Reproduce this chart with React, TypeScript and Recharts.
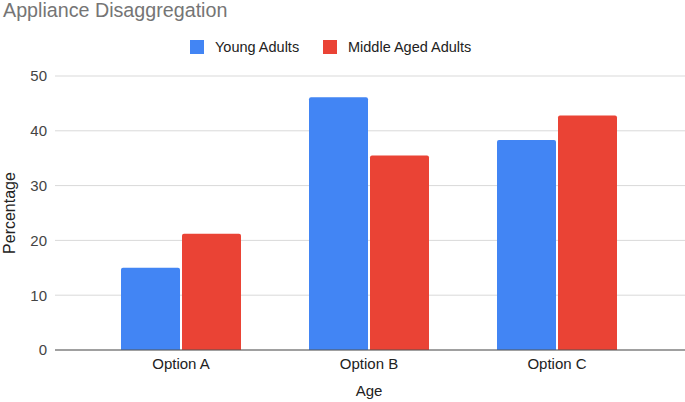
import { BarChart, Bar, XAxis, YAxis, CartesianGrid } from 'recharts'

const categories = ['Option A', 'Option B', 'Option C']
const youngAdults = [15.0, 46.1, 38.3]
const middleAgedAdults = [21.2, 35.5, 42.8]
const yTicks = [0, 10, 20, 30, 40, 50]

const SERIES = [
  { key: 'young', name: 'Young Adults', color: '#4285F4', values: youngAdults },
  { key: 'middle', name: 'Middle Aged Adults', color: '#EA4335', values: middleAgedAdults },
]

const FONT = '"Liberation Sans", Arial, sans-serif'

const data = categories.map((name, i) => {
  const row: any = { name }
  SERIES.forEach(s => { row[s.key] = s.values[i] })
  return row
})

// legend swatch / label x positions
const legendX = [190, 323]

export default function App() {
  return (
    <div style={{ position: 'relative', width: 685, height: 402, background: '#fff', fontFamily: FONT }}>
      <style>{'body{margin:0}'}</style>
      <BarChart
        width={685}
        height={402}
        data={data}
        margin={{ top: 76, right: 0, bottom: 22, left: 20 }}
        barCategoryGap={34}
        barGap={2}
      >
        <CartesianGrid vertical={false} stroke="#d9d9d9" />
        <XAxis
          dataKey="name"
          height={30}
          padding={{ left: 32, right: 34 }}
          tickLine={false}
          axisLine={{ stroke: '#555' }}
          tick={{ fill: '#222', fontSize: 15, fontFamily: FONT }}
        />
        <YAxis
          width={35}
          domain={[0, 50]}
          ticks={yTicks}
          tickLine={false}
          axisLine={false}
          tick={{ fill: '#444', fontSize: 15, fontFamily: FONT }}
        />
        {SERIES.map(s => (
          <Bar key={s.key} dataKey={s.key} name={s.name} fill={s.color} radius={[2, 2, 0, 0]} isAnimationActive={false} />
        ))}
      </BarChart>

      {/* titles and legend drawn on top */}
      <svg width={685} height={402} style={{ position: 'absolute', left: 0, top: 0, pointerEvents: 'none' }}>
        <text x={3} y={17} fontSize={19.7} fill="#757575" fontFamily={FONT}>Appliance Disaggregation</text>
        <text x={369} y={396} fontSize={15} fill="#222" textAnchor="middle" fontFamily={FONT}>Age</text>
        <text
          transform="translate(14.5, 213) rotate(-90)"
          fontSize={16}
          fill="#222"
          textAnchor="middle"
          fontFamily={FONT}
        >
          Percentage
        </text>
        {SERIES.map((s, i) => (
          <g key={s.key}>
            <rect x={legendX[i]} y={40} width={14} height={14} fill={s.color} />
            <text x={legendX[i] + 25} y={51.5} fontSize={14.5} fill="#222" fontFamily={FONT}>{s.name}</text>
          </g>
        ))}
      </svg>
    </div>
  )
}
